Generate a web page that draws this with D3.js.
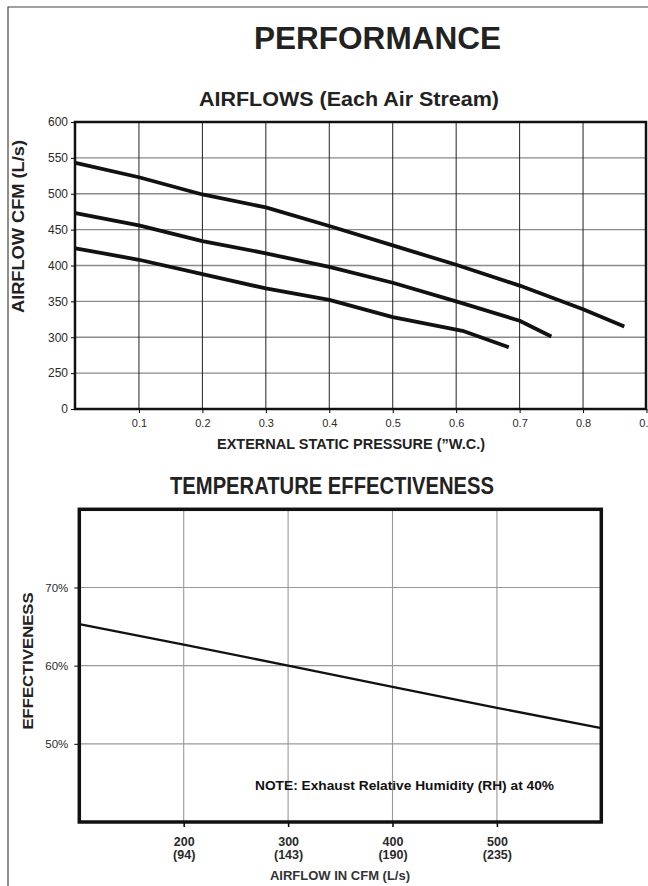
<html>
<head>
  <script src="https://d3js.org/d3.v7.min.js"></script>
  <style>
  body { margin: 0; background: #fff; overflow: hidden; }
  svg { display: block; font-family: "Liberation Sans", Arial, sans-serif; }
  .tick text { fill: #2a2a2a; }
  </style>
</head>
<body>
  <svg id="perf" width="648" height="886"></svg>
  <script>

// airflow chart
var pressureTicks = [0.1, 0.2, 0.3, 0.4, 0.5, 0.6, 0.7, 0.8, 0.9];
var airflowTicks = [200, 250, 300, 350, 400, 450, 500, 550, 600];
var highX = [0, 0.1, 0.2, 0.3, 0.4, 0.5, 0.6, 0.7, 0.8, 0.865];
var highY = [543, 523, 499, 481, 455, 428, 401, 372, 339, 315];
var midX = [0, 0.1, 0.2, 0.3, 0.4, 0.5, 0.6, 0.7, 0.75];
var midY = [473, 456, 434, 417, 398, 376, 350, 323, 301];
var lowX = [0, 0.1, 0.2, 0.3, 0.4, 0.5, 0.61, 0.683];
var lowY = [424, 408, 388, 368, 352, 328, 309, 286];

// effectiveness chart
var cfmTicks = [200, 300, 400, 500];
var lsLabels = ["(94)", "(143)", "(190)", "(235)"];
var effTicks = [50, 60, 70];
var effX = [100, 200, 300, 400, 500, 600];
var effY = [65.3, 62.7, 60.0, 57.3, 54.6, 52.0];

var svg = d3.select("#perf");

// page border
svg.append("path")
  .attr("d", "M8,886 L8,7 L648,7")
  .attr("fill", "none")
  .attr("stroke", "#444")
  .attr("stroke-width", 1.2);

svg.append("text")
  .attr("x", 254).attr("y", 49)
  .attr("font-size", 32).attr("font-weight", "bold").attr("fill", "#222")
  .attr("textLength", 247).attr("lengthAdjust", "spacingAndGlyphs")
  .text("PERFORMANCE");

svg.append("text")
  .attr("x", 199).attr("y", 106)
  .attr("font-size", 21).attr("font-weight", "bold").attr("fill", "#222")
  .attr("textLength", 300).attr("lengthAdjust", "spacingAndGlyphs")
  .text("AIRFLOWS (Each Air Stream)");

//---- top chart
var x1 = d3.scaleLinear().domain([0, 0.9]).range([75.5, 646.5]);
var y1 = d3.scaleLinear().domain([200, 600]).range([409, 122]);
var left1 = 75, right1 = 646, top1 = 122, bottom1 = 409;

var g1 = svg.append("g");

g1.append("g").selectAll("line")
  .data(airflowTicks.slice(1))
  .enter().append("line")
    .attr("x1", left1).attr("x2", right1)
    .attr("y1", function(d) { return y1(d); })
    .attr("y2", function(d) { return y1(d); })
    .attr("stroke", "#8a8a8a").attr("stroke-width", 1.3);

g1.append("g").selectAll("line")
  .data(pressureTicks.filter(function(d) { return d < 0.89; }))
  .enter().append("line")
    .attr("x1", function(d) { return x1(d); })
    .attr("x2", function(d) { return x1(d); })
    .attr("y1", top1).attr("y2", bottom1)
    .attr("stroke", "#222").attr("stroke-width", 1);

var xAxis1 = g1.append("g")
  .attr("transform", "translate(0," + bottom1 + ")")
  .call(d3.axisBottom(x1).tickValues(pressureTicks).tickSize(4).tickPadding(6)
    .tickFormat(d3.format(".1f")));
xAxis1.select(".domain").remove();
xAxis1.selectAll("text").attr("font-size", 11);

var yAxis1 = g1.append("g")
  .attr("transform", "translate(" + left1 + ",0)")
  .call(d3.axisLeft(y1).tickValues(airflowTicks).tickSize(4).tickPadding(3)
    .tickFormat(function(d) { return d === 200 ? "0" : d; }));
yAxis1.select(".domain").remove();
yAxis1.selectAll("text").attr("font-size", 12);

var line1 = d3.line()
  .x(function(d) { return x1(d[0]); })
  .y(function(d) { return y1(d[1]); });

[[highX, highY], [midX, midY], [lowX, lowY]].forEach(function(s) {
  g1.append("path")
    .datum(d3.zip(s[0], s[1]))
    .attr("d", line1)
    .attr("fill", "none")
    .attr("stroke", "#111")
    .attr("stroke-width", 3.8)
    .attr("stroke-linejoin", "round");
});

g1.append("rect")
  .attr("x", left1).attr("y", top1)
  .attr("width", right1 - left1).attr("height", bottom1 - top1)
  .attr("fill", "none").attr("stroke", "#111").attr("stroke-width", 2.5);

svg.append("text")
  .attr("transform", "translate(24,226.5) rotate(-90)")
  .attr("text-anchor", "middle")
  .attr("font-size", 16).attr("font-weight", "bold").attr("fill", "#222")
  .attr("textLength", 173).attr("lengthAdjust", "spacingAndGlyphs")
  .text("AIRFLOW CFM (L/s)");

svg.append("text")
  .attr("x", 217).attr("y", 449)
  .attr("font-size", 14).attr("font-weight", "bold").attr("fill", "#222")
  .attr("textLength", 268).attr("lengthAdjust", "spacingAndGlyphs")
  .text("EXTERNAL STATIC PRESSURE (\u201DW.C.)");

//---- bottom chart
svg.append("text")
  .attr("x", 170).attr("y", 494)
  .attr("font-size", 24).attr("font-weight", "bold").attr("fill", "#222")
  .attr("textLength", 324).attr("lengthAdjust", "spacingAndGlyphs")
  .text("TEMPERATURE EFFECTIVENESS");

var x2 = d3.scaleLinear().domain([100, 600]).range([79.3, 601.3]);
var y2 = d3.scaleLinear().domain([40, 80]).range([822, 509.3]);
var left2 = 79.3, right2 = 601.3, top2 = 509.3, bottom2 = 822;

var g2 = svg.append("g");

g2.append("g").selectAll("line")
  .data(effTicks)
  .enter().append("line")
    .attr("x1", left2).attr("x2", right2)
    .attr("y1", function(d) { return y2(d); })
    .attr("y2", function(d) { return y2(d); })
    .attr("stroke", "#999").attr("stroke-width", 1.1);

g2.append("g").selectAll("line")
  .data(cfmTicks)
  .enter().append("line")
    .attr("x1", function(d) { return x2(d); })
    .attr("x2", function(d) { return x2(d); })
    .attr("y1", top2).attr("y2", bottom2)
    .attr("stroke", "#999").attr("stroke-width", 1.1);

var xAxis2 = g2.append("g")
  .attr("transform", "translate(0," + bottom2 + ")")
  .call(d3.axisBottom(x2).tickValues(cfmTicks).tickSize(5).tickPadding(10));
xAxis2.select(".domain").remove();
xAxis2.selectAll(".tick line").attr("stroke-width", 1.5);
xAxis2.selectAll(".tick text")
  .attr("font-size", 12.5).attr("font-weight", "bold").attr("fill", "#222")
  .each(function(d, i) {
    var t = d3.select(this);
    t.text(null);
    t.append("tspan").attr("x", 0).text(d);
    t.append("tspan").attr("x", 0).attr("dy", "1.08em").text(lsLabels[i]);
  });

var yAxis2 = g2.append("g")
  .attr("transform", "translate(" + left2 + ",0)")
  .call(d3.axisLeft(y2).tickValues(effTicks).tickSize(5).tickPadding(6)
    .tickFormat(function(d) { return d + "%"; }));
yAxis2.select(".domain").remove();
yAxis2.selectAll("text").attr("font-size", 11.5);

var line2 = d3.line()
  .x(function(d) { return x2(d[0]); })
  .y(function(d) { return y2(d[1]); });

g2.append("path")
  .datum(d3.zip(effX, effY))
  .attr("d", line2)
  .attr("fill", "none")
  .attr("stroke", "#111")
  .attr("stroke-width", 2.3);

g2.append("rect")
  .attr("x", left2).attr("y", top2)
  .attr("width", right2 - left2).attr("height", bottom2 - top2)
  .attr("fill", "none").attr("stroke", "#111").attr("stroke-width", 3.5);

svg.append("text")
  .attr("x", 255).attr("y", 790)
  .attr("font-size", 13.5).attr("font-weight", "bold").attr("fill", "#111")
  .attr("textLength", 299).attr("lengthAdjust", "spacingAndGlyphs")
  .text("NOTE: Exhaust Relative Humidity (RH) at 40%");

svg.append("text")
  .attr("transform", "translate(33,661) rotate(-90)")
  .attr("text-anchor", "middle")
  .attr("font-size", 15).attr("font-weight", "bold").attr("fill", "#222")
  .attr("textLength", 137).attr("lengthAdjust", "spacingAndGlyphs")
  .text("EFFECTIVENESS");

svg.append("text")
  .attr("x", 340).attr("y", 880)
  .attr("text-anchor", "middle")
  .attr("font-size", 13).attr("font-weight", "bold").attr("fill", "#333")
  .text("AIRFLOW IN CFM (L/s)");

  </script>
</body>
</html>
